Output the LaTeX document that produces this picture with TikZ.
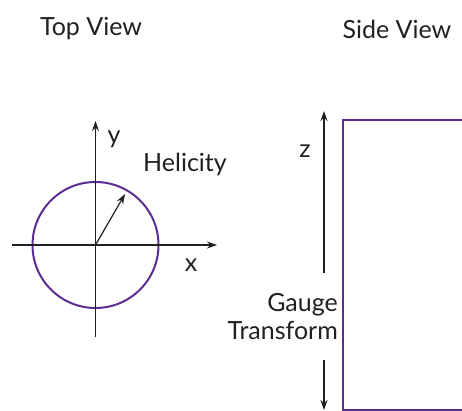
\documentclass[tikz,border=0pt]{standalone}
\usepackage{fontspec}
\setmainfont{Lato}
\usetikzlibrary{arrows.meta}
\definecolor{ink}{HTML}{231F20}
\definecolor{purp}{HTML}{5B2C91}
\tikzset{
  axis/.style={draw=ink, line width=1.2pt, -{Stealth[length=10pt,width=7pt]}},
  lbl/.style={text=ink, font=\fontsize{25}{28}\selectfont, inner sep=0pt},
  purpline/.style={draw=purp, line width=2pt}
}
\begin{document}
\begin{tikzpicture}[x=1pt,y=-1pt]
\useasboundingbox (0,0) rectangle (462,411);
\clip (0,0) rectangle (462,411);
% titles
\node[lbl] (top) at (91,29) {Top View};
\node[lbl] (side) at (397,29) {Side View};
% top view
\coordinate (o) at (95.5,245);
\coordinate (xl) at (12,245);
\coordinate (xr) at (217,245);
\coordinate (yb) at (95.5,337);
\coordinate (yt) at (95.5,121);
\coordinate (hel) at (125,194);
\node[purpline, circle, minimum size=126pt, inner sep=0pt] (circ) at (o) {};
\draw[axis] (xl) -- (xr);
\draw[axis] (yb) -- (yt);
\draw[axis] (o) -- (hel);
\node[lbl] (ylab) at (114,139) {y};
\node[lbl] (xlab) at (191,265) {x};
\node[lbl] (hlab) at (185,164) {Helicity};
% side view
\coordinate (r1) at (480,120);
\coordinate (r2) at (342.5,120);
\coordinate (r3) at (342.5,409.5);
\coordinate (r4) at (480,409.5);
\draw[purpline] (r1) -- (r2) -- (r3) -- (r4);
\node[lbl] (zlab) at (305,151) {z};
\node[lbl, align=right, anchor=east] (gauge) at (338,317) {Gauge\\Transform};
\coordinate (zu) at (324,273);
\coordinate (zt) at (324,111);
\coordinate (zd) at (324,360);
\coordinate (zb) at (324,410);
\draw[axis] (zu) -- (zt);
\draw[axis] (zd) -- (zb);
\end{tikzpicture}
\end{document}
